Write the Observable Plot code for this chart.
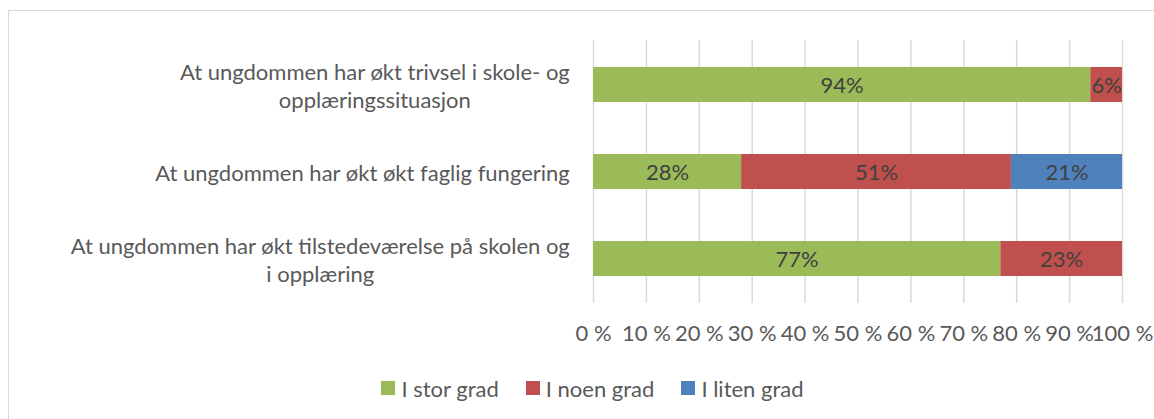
<!DOCTYPE html>
<html>
<head>
<meta charset="utf-8">
<script src="https://cdn.jsdelivr.net/npm/d3@7"></script>
<script src="https://cdn.jsdelivr.net/npm/@observablehq/plot@0.6"></script>
<style>
  html, body { margin: 0; padding: 0; background: #fff; overflow: hidden; width: 1154px; height: 419px; }
  #frame { position: absolute; left: 8px; top: 10px; width: 1400px; height: 600px;
           border-left: 1px solid #D9D9D9; border-top: 1px solid #D9D9D9; pointer-events: none; }
  #chart { position: relative; }
  #legend { position: relative; width: 1185px; height: 36px; display: flex; justify-content: center; align-items: center;
            font-family: Lato, sans-serif; font-size: 22px; color: #595959; }
  #legend .item { display: flex; align-items: center; margin: 0 13.5px; }
  #legend .sw { width: 14px; height: 14px; margin-right: 6px; }
</style>
</head>
<body>
<div id="frame"></div>
<div id="chart"></div>
<div id="legend"></div>
<script>
// ---- data ----
const categories = [
  "At ungdommen har økt trivsel i skole- og\nopplæringssituasjon",
  "At ungdommen har økt økt faglig fungering",
  "At ungdommen har økt tilstedeværelse på skolen og\ni opplæring"
];
const series = ["I stor grad", "I noen grad", "I liten grad"];
const colors = ["#9BBB59", "#C0504D", "#4F81BD"];
const storGrad  = [94, 28, 77];
const noenGrad  = [6, 51, 23];
const litenGrad = [0, 21, 0];
const xTicks = [0, 10, 20, 30, 40, 50, 60, 70, 80, 90, 100];
const tickLabels = ["0 %", "10 %", "20 %", "30 %", "40 %", "50 %", "60 %", "70 %", "80 %", "90 %", "100 %"];

// ---- table ----
const valuesBySeries = [storGrad, noenGrad, litenGrad];
const rows = [];
categories.forEach((c, i) => {
  series.forEach((s, j) => {
    const v = valuesBySeries[j][i];
    if (v > 0) rows.push({category: c, series: s, value: v});
  });
});

const FONT = "Lato, sans-serif";
const FS = 22;
const textGray = "#595959";

// measure widest line of each category label, so that lines are centred within a right-aligned block
const ctx = document.createElement("canvas").getContext("2d");
ctx.font = `${FS}px Lato`;
const blockWidth = c => d3.max(c.split("\n"), l => ctx.measureText(l).width);
const labelGap = 23.5;

const chart = Plot.plot({
  width: 1154,
  height: 370,
  marginLeft: 593,
  marginRight: 32,
  marginTop: 40,
  marginBottom: 67,
  style: {fontFamily: FONT, fontSize: FS + "px", color: textGray, background: "transparent", overflow: "visible"},
  x: {domain: [0, 100], axis: null},
  y: {domain: categories, paddingInner: 0.6, paddingOuter: 0.3, axis: null},
  color: {domain: series, range: colors},
  marks: [
    Plot.gridX(xTicks, {stroke: "#D9D9D9", strokeOpacity: 1, strokeWidth: 1.5}),
    Plot.barX(rows, Plot.stackX({x: "value", y: "category", fill: "series"})),
    Plot.text(rows, Plot.stackX({
      x: "value", y: "category", z: "series",
      text: d => d.value + "%",
      fill: "#404040", fontSize: FS, dy: 1
    })),
    ...categories.map(c => Plot.text([c], {
      y: d => d, text: d => d,
      frameAnchor: "left", textAnchor: "middle",
      dx: -(labelGap + blockWidth(c) / 2),
      lineHeight: 28 / FS,
      fill: textGray, fontSize: FS
    })),
    Plot.axisX(xTicks, {
      label: null,
      tickSize: 0, tickPadding: 22,
      tickFormat: (d, i) => tickLabels[xTicks.indexOf(d)],
      fill: textGray, fontSize: FS
    })
  ]
});
document.getElementById("chart").appendChild(chart);

// ---- legend ----
const legend = d3.select("#legend");
series.forEach((s, i) => {
  const item = legend.append("div").attr("class", "item");
  item.append("div").attr("class", "sw").style("background", colors[i]);
  item.append("span").text(s);
});
</script>
</body>
</html>
